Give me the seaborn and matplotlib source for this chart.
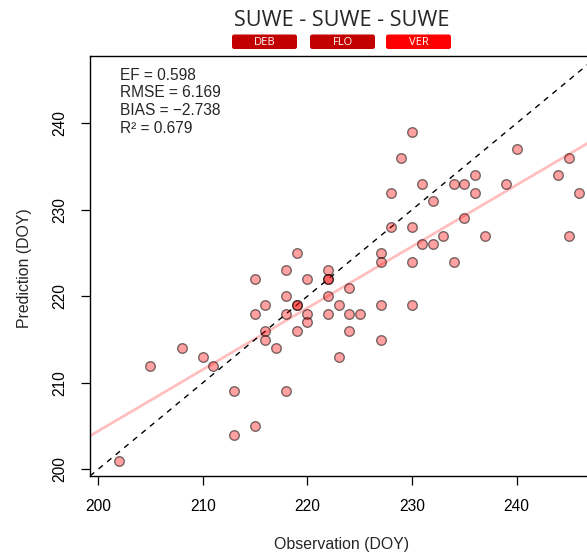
import matplotlib
matplotlib.use("Agg")
import matplotlib.pyplot as plt
from matplotlib.patches import FancyBboxPatch
import seaborn as sns
import pandas as pd

# Observed vs predicted day of year (DOY)
observation = [219, 218, 222, 215, 220, 222, 222, 218, 222,
               230, 229, 240, 245, 244, 236, 231, 234, 235, 239,
               228, 236, 246, 232, 235, 228, 230, 233, 237, 245,
               231, 232, 227, 227, 230, 234, 224, 223, 227, 230,
               220, 222, 224, 225, 220, 224, 227, 223, 216, 219,
               219, 215, 218, 216, 219, 216, 217, 208, 210, 205,
               211, 213, 218, 215, 213, 202]
prediction = [225, 223, 223, 222, 222, 222, 222, 220, 220,
              239, 236, 237, 236, 234, 234, 233, 233, 233, 233,
              232, 232, 232, 231, 229, 228, 228, 227, 227, 227,
              226, 226, 225, 224, 224, 224, 221, 219, 219, 219,
              218, 218, 218, 218, 217, 216, 215, 213, 219, 219,
              219, 218, 218, 216, 216, 215, 214, 214, 213, 212,
              212, 209, 209, 205, 204, 201]

stat_lines = ["EF = 0.598", "RMSE = 6.169", "BIAS = \u22122.738", "R\u00b2 = 0.679"]
title = "SUWE - SUWE - SUWE"
tags = ["DEB", "FLO", "VER"]
tag_colors = ["#c20000", "#c20000", "#ff0000"]
axis_lim = (199.23, 247.78)
ticks = [200, 210, 220, 230, 240]

df = pd.DataFrame({"obs": observation, "pred": prediction})

sns.set_style("ticks")
plt.rcParams["font.family"] = ["Liberation Sans", "DejaVu Sans"]

W, H = 587, 554
fig = plt.figure(figsize=(W / 100, H / 100), dpi=100)
left, bottom, top = 90, 476, 56
right = 598
ax = fig.add_axes([left / W, (H - bottom) / H, (right - left) / W, (bottom - top) / H])

ax.set_xlim(axis_lim)
ax.set_ylim(axis_lim)

# 1:1 reference line
ax.plot(axis_lim, axis_lim, color="black", linestyle=(0, (4, 4)), linewidth=1.0, zorder=2)

# linear fit across the full axis range
sns.regplot(data=df, x="obs", y="pred", ax=ax, scatter=False, ci=None, truncate=False,
            line_kws={"color": (1.0, 0.0, 0.0, 0.25), "linewidth": 2.0, "zorder": 1})

sns.scatterplot(data=df, x="obs", y="pred", ax=ax, s=48,
                color=(1.0, 0.0, 0.0, 0.37), edgecolor=(0.0, 0.0, 0.0, 0.52),
                linewidth=1.0, zorder=3)

ax.set_xlim(axis_lim)
ax.set_ylim(axis_lim)
ax.set_xticks(ticks)
ax.set_yticks(ticks)
for lab in ax.get_yticklabels():
    lab.set_rotation(90)
    lab.set_va("center")
ax.tick_params(axis="both", direction="out", length=6.5, width=0.9, color="black",
               labelsize=11.2, pad=10, labelcolor="black")
for s in ax.spines.values():
    s.set_linewidth(1.0)
    s.set_color("black")
    s.set_visible(True)

ax.set_xlabel("Observation (DOY)", fontsize=11.4)
ax.set_ylabel("Prediction (DOY)", fontsize=11.4)
ax.xaxis.set_label_coords((342 - left) / (right - left), -(545 - bottom) / (bottom - top))
ax.yaxis.set_label_coords(-(left - 25) / (right - left), (bottom - 268) / (bottom - top))
ax.xaxis.label.set_va("center")
ax.yaxis.label.set_va("center")

# fit statistics
for i, line in enumerate(stat_lines):
    fig.text(120 / W, 1 - (75 + i * 17.7) / H, line, fontsize=11.2, va="center", ha="left")

# title and stage tags
fig.text(341.5 / W, 1 - 20.5 / H, title, fontsize=15.6, ha="center", va="center",
         family=["Open Sans", "DejaVu Sans"])
box_x = [232, 310, 386]
box_w = 65
for x0, t, c in zip(box_x, tags, tag_colors):
    y0, h = 34.5, 14.5
    patch = FancyBboxPatch(((x0) / W, 1 - (y0 + h) / H), box_w / W, h / H,
                           boxstyle="round,pad=0,rounding_size=0.004",
                           transform=fig.transFigure, facecolor=c, edgecolor="none")
    fig.patches.append(patch)
    fig.text((x0 + box_w / 2) / W, 1 - (y0 + h / 2 + 0.3) / H, t, fontsize=8,
             color="white", ha="center", va="center", family=["Open Sans", "DejaVu Sans"])

fig.savefig("out.png", dpi=100)
